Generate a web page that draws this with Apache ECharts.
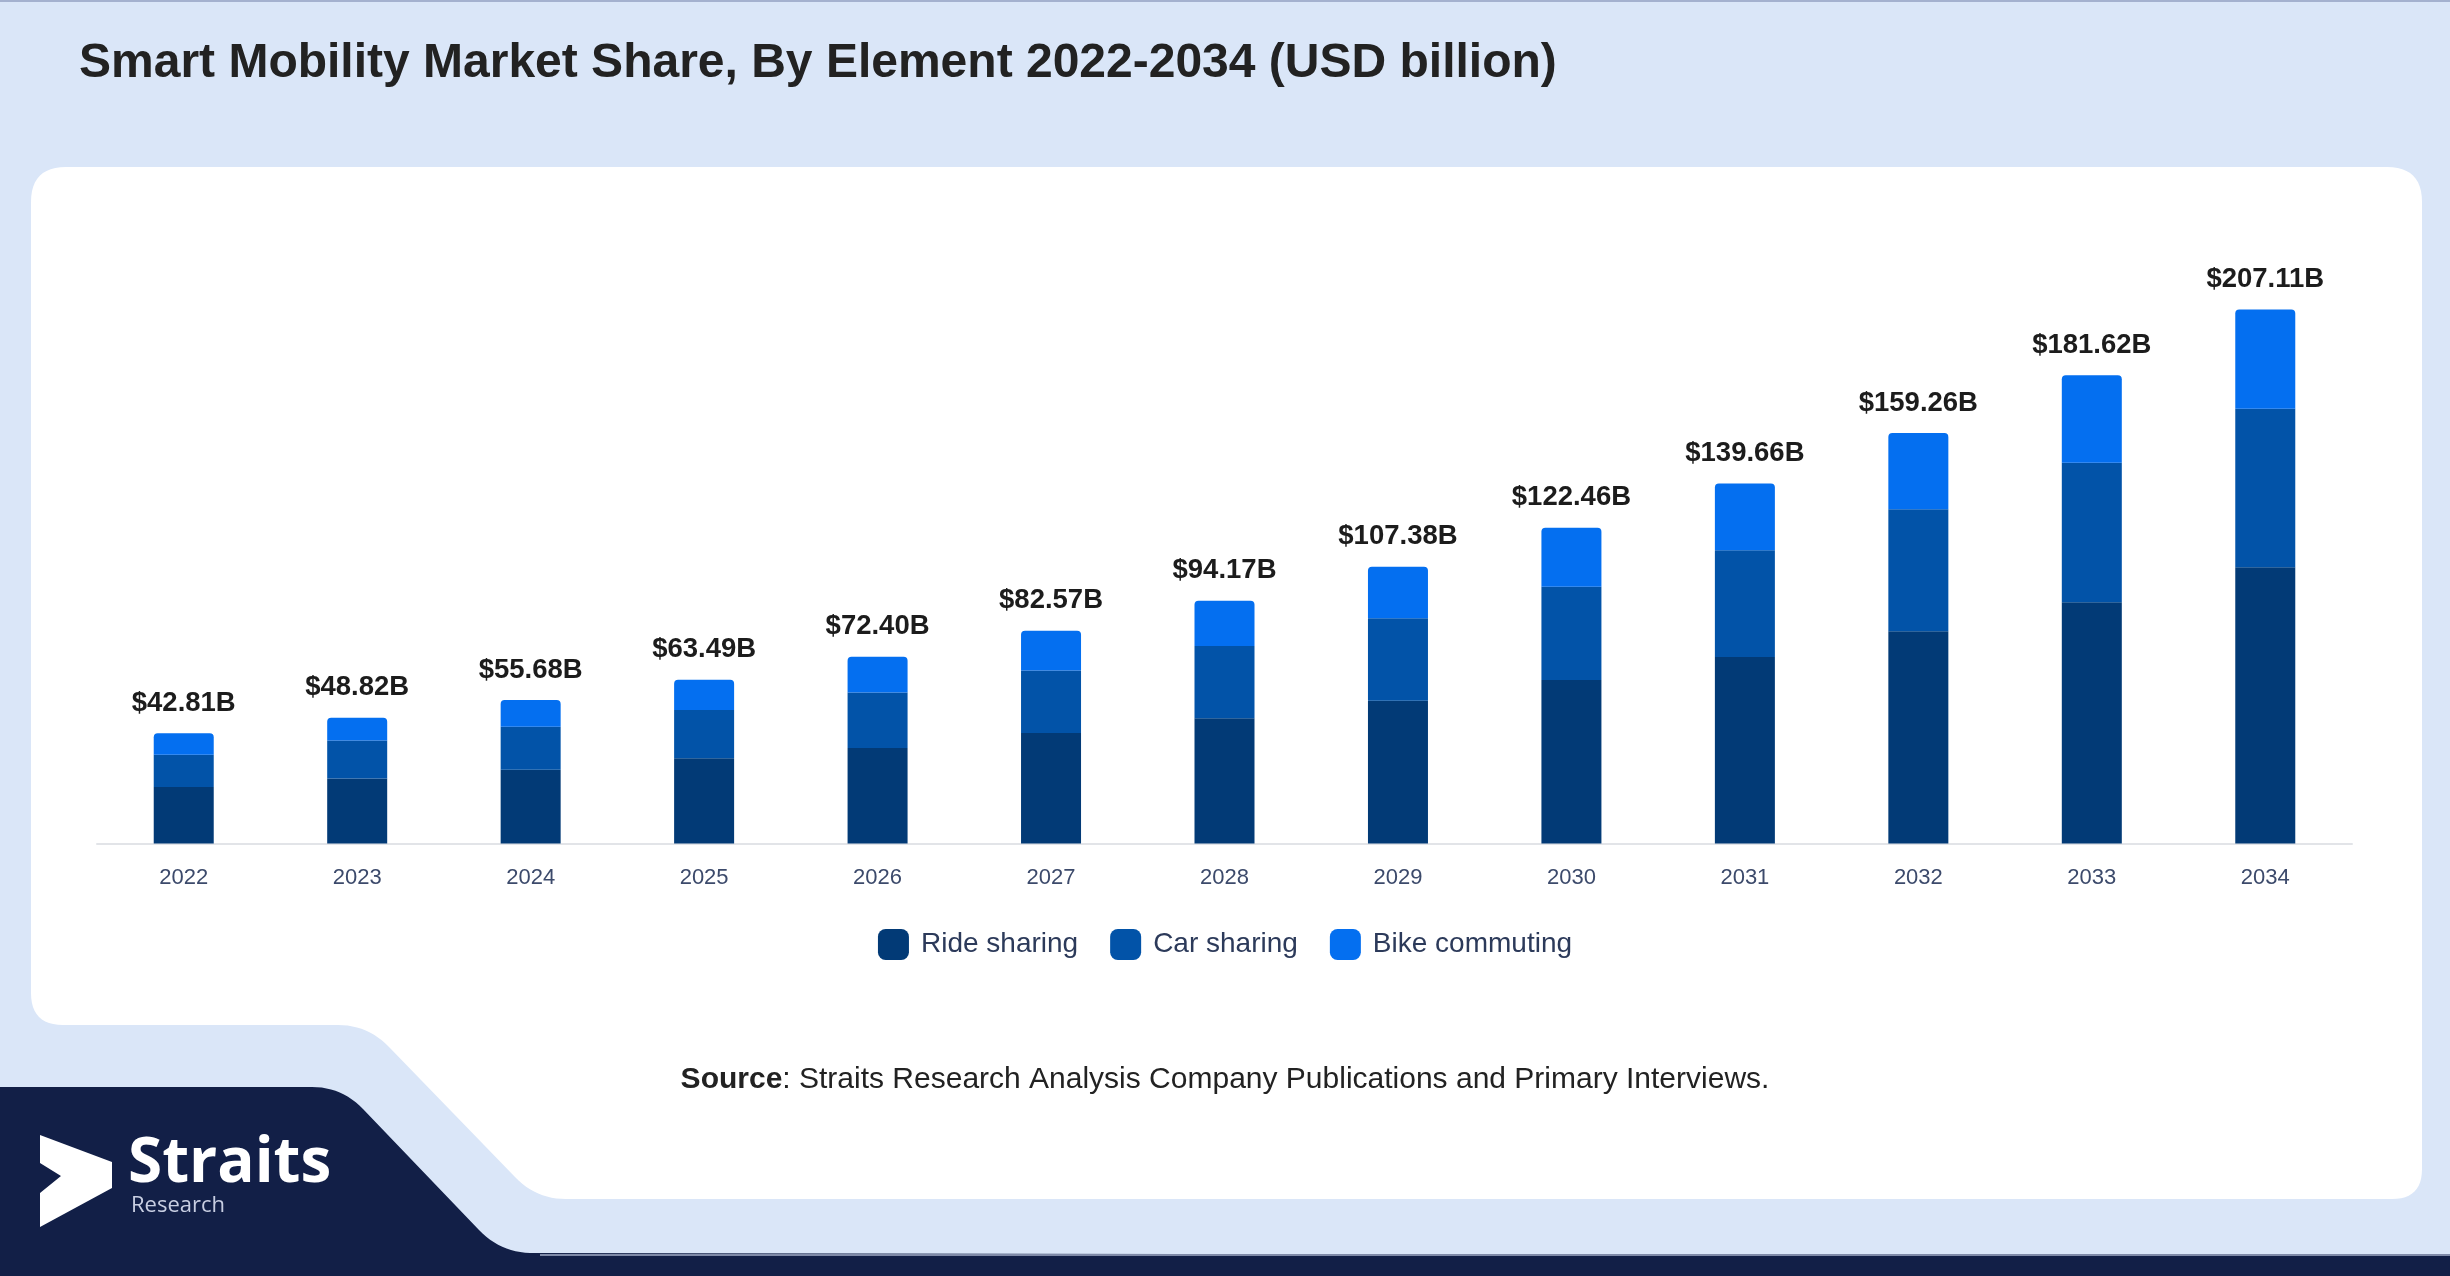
<!DOCTYPE html>
<html>
<head>
<meta charset="utf-8">
<script src="https://cdn.jsdelivr.net/npm/echarts@6/dist/echarts.min.js"></script>
<style>
html,body{margin:0;padding:0;background:#dae6f8;}
#chart{width:2450px;height:1276px;}
</style>
</head>
<body>
<div id="chart"></div>
<script>
const years = ['2022','2023','2024','2025','2026','2027','2028','2029','2030','2031','2032','2033','2034'];
const rideSharing = [21.90, 25.22, 28.59, 33.11, 37.07, 42.83, 48.58, 55.39, 63.46, 72.30, 82.36, 93.54, 107.17];
const carSharing  = [12.55, 14.73, 16.67, 18.67, 21.51, 24.26, 28.03, 31.99, 36.17, 41.46, 47.30, 54.18, 61.47];
const bikeCommuting = [8.36, 8.87, 10.42, 11.71, 13.82, 15.48, 17.56, 20.00, 22.83, 25.90, 29.60, 33.90, 38.47];
const totalLabels = ['$42.81B','$48.82B','$55.68B','$63.49B','$72.40B','$82.57B','$94.17B','$107.38B','$122.46B','$139.66B','$159.26B','$181.62B','$207.11B'];
const seriesNames = ['Ride sharing','Car sharing','Bike commuting'];

// helper: turn a simple M/L/Q outline into polygon points
function outline(cmds) {
  const pts = [];
  let cx = 0, cy = 0;
  cmds.forEach(c => {
    if (c[0] === 'M' || c[0] === 'L') { cx = c[1]; cy = c[2]; pts.push([cx, cy]); }
    else if (c[0] === 'Q') {
      const x0 = cx, y0 = cy, qx = c[1], qy = c[2], x1 = c[3], y1 = c[4];
      for (let i = 1; i <= 12; i++) {
        const t = i / 12, u = 1 - t;
        pts.push([u*u*x0 + 2*u*t*qx + t*t*x1, u*u*y0 + 2*u*t*qy + t*t*y1]);
      }
      cx = x1; cy = y1;
    }
  });
  return pts;
}
const cardShape = outline([['M',66,167],['L',2387,167],['Q',2422,167,2422,202],['L',2422,1169],['Q',2422,1199,2392,1199],['L',566,1199],['Q',536,1199,515,1177],['L',389,1047],['Q',368,1025,338,1025],['L',63,1025],['Q',31,1025,31,993],['L',31,202],['Q',31,167,66,167]]);
const navyShape = outline([['M',0,1087],['L',312,1087],['Q',342,1087,363,1109],['L',479,1230],['Q',500,1252,530,1253],['L',2450,1256],['L',2450,1276],['L',0,1276]]);

const chart = echarts.init(document.getElementById('chart'), null, {renderer:'canvas'});
const colors = ['#023a76','#0253a8','#046ff0'];

const option = {
  backgroundColor: '#dae6f8',
  animation: false,
  color: colors,
  graphic: [
    {type:'rect', z:-5, shape:{x:0,y:0,width:2450,height:2}, style:{fill:'#a4b1cf'}},
    {type:'polygon', z:-5, shape:{points:cardShape}, style:{fill:'#ffffff'}},
    {type:'polygon', z:-4, shape:{points:navyShape}, style:{fill:'#121f47'}},
    {type:'rect', z:-3, shape:{x:540,y:1254,width:1910,height:2}, style:{fill:'#7f8aa8'}},
    {type:'polygon', z:-2, shape:{points:[[40,1135],[112,1162],[112,1188],[40,1227],[40,1193],[61,1176],[40,1163]]}, style:{fill:'#ffffff'}},
    {type:'text', z:-2, style:{text:'Straits', x:128, y:1164, font:'bold 62px "Open Sans", "DejaVu Sans", sans-serif', fill:'#ffffff', textAlign:'left', textVerticalAlign:'middle'}},
    {type:'text', z:-2, style:{text:'Research', x:131, y:1206, font:'22px "Open Sans", sans-serif', fill:'#c8cee2', textAlign:'left', textVerticalAlign:'middle'}},
    {type:'text', z:1, style:{text:'Smart Mobility Market Share, By Element 2022-2034 (USD billion)', x:79, y:64, font:'bold 48px "Liberation Sans", Arial, sans-serif', fill:'#222222', textAlign:'left', textVerticalAlign:'middle'}},
    {type:'text', z:1, style:{text:'{b|Source}: Straits Research Analysis Company Publications and Primary Interviews.', x:1225, y:1080, font:'30px "Liberation Sans", Arial, sans-serif', fill:'#222222', textAlign:'center', textVerticalAlign:'middle', rich:{b:{fontWeight:'bold', fontSize:30, fontFamily:'"Liberation Sans", Arial, sans-serif', fill:'#222222'}}}}
  ],
  grid: {left:97, right:98, top:199, bottom:432.5, containLabel:false},
  legend: {
    data: seriesNames,
    top: 924,
    left: 'center',
    icon: 'roundRect',
    itemWidth: 31,
    itemHeight: 31,
    itemGap: 32,
    textStyle: {fontSize:28, color:'#2c3a5a', fontFamily:'"Liberation Sans", Arial, sans-serif', padding:[0,0,0,7]}
  },
  xAxis: {
    type:'category',
    data: years,
    axisLine:{lineStyle:{color:'#e2e4e8', width:2}},
    axisTick:{show:false},
    axisLabel:{fontSize:22, color:'#3c4a6b', margin:23, fontFamily:'"Liberation Sans", Arial, sans-serif'}
  },
  yAxis: {type:'value', min:0, max:250, show:false, splitLine:{show:false}},
  series: [
    {name:seriesNames[0], type:'bar', stack:'total', barWidth:60, data:rideSharing, itemStyle:{color:colors[0]}},
    {name:seriesNames[1], type:'bar', stack:'total', barWidth:60, data:carSharing, itemStyle:{color:colors[1]}},
    {name:seriesNames[2], type:'bar', stack:'total', barWidth:60, data:bikeCommuting,
      itemStyle:{color:colors[2], borderRadius:[4,4,0,0]},
      label:{show:true, position:'top', distance:16, fontSize:27.5, fontWeight:'bold', color:'#1c1c1c', fontFamily:'"Liberation Sans", Arial, sans-serif',
        formatter: p => totalLabels[p.dataIndex]}}
  ]
};
chart.setOption(option);
</script>
</body>
</html>
